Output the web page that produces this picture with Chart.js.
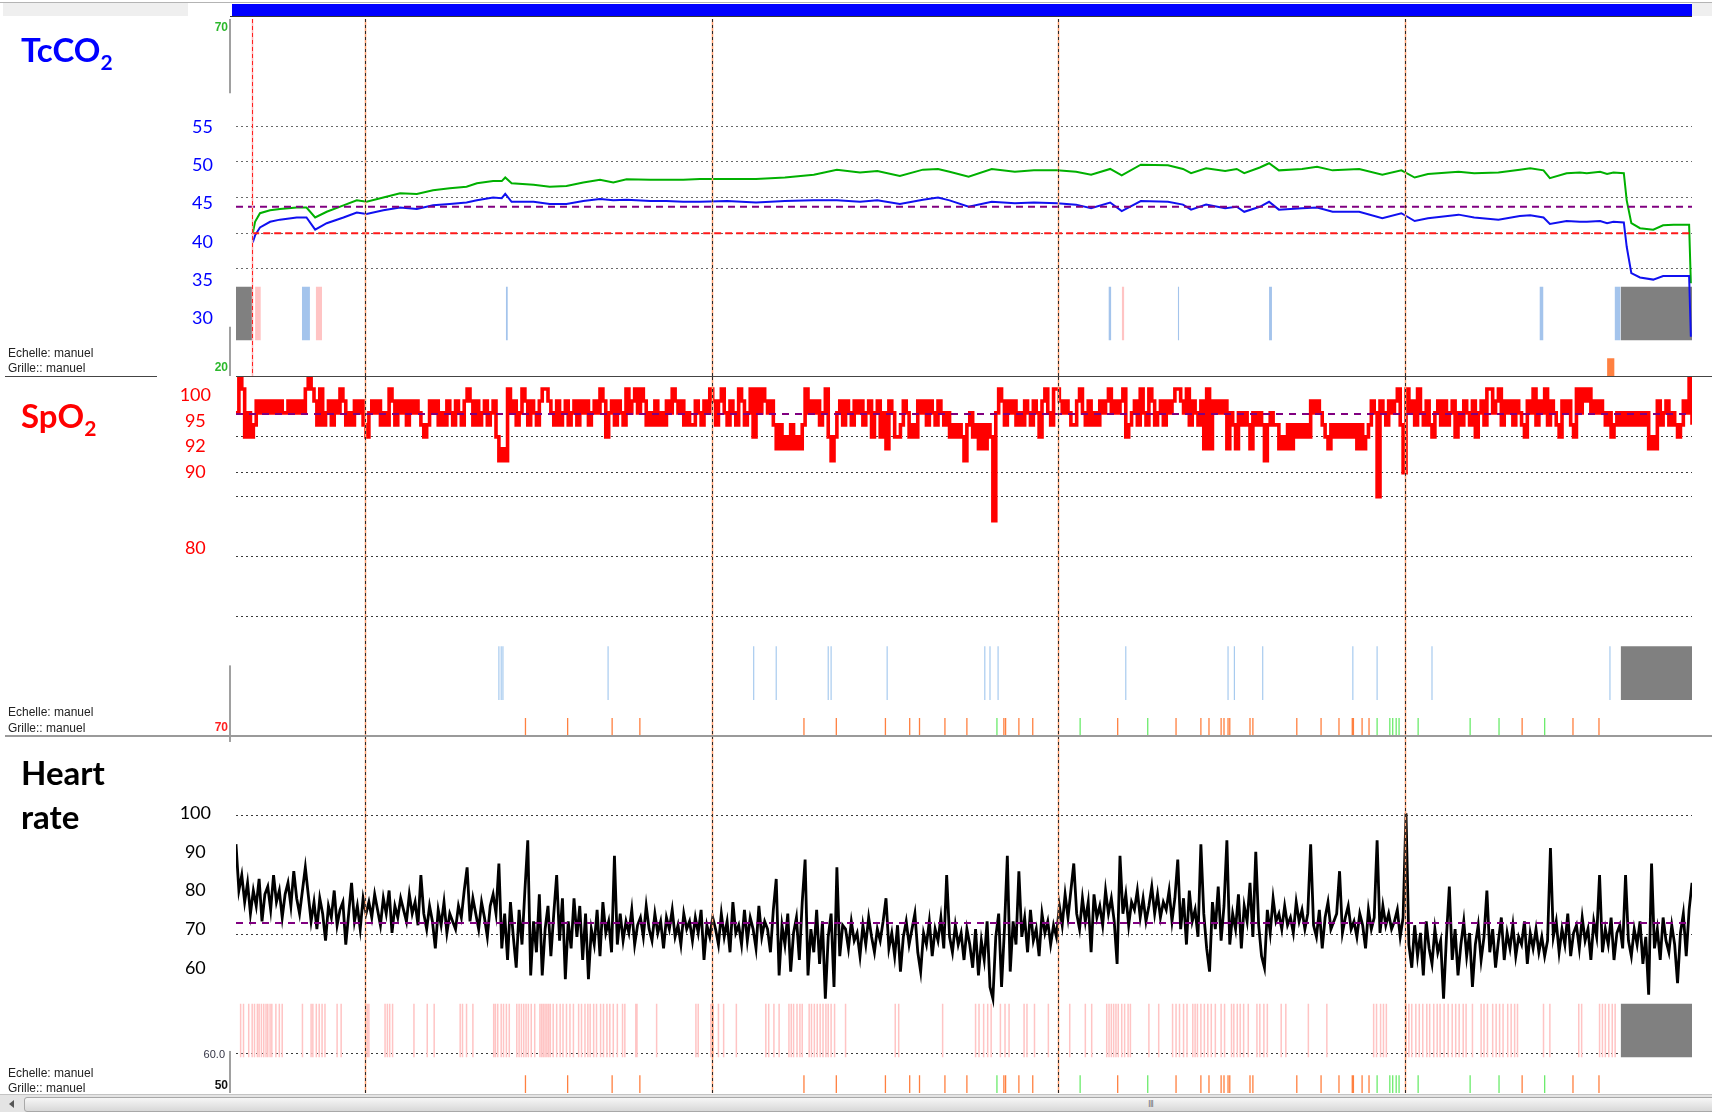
<!DOCTYPE html>
<html lang="fr">
<head>
<meta charset="utf-8">
<title>Polygraphie – TcCO2 / SpO2 / Heart rate</title>
<script src="https://cdn.jsdelivr.net/npm/chart.js@4.4.1/dist/chart.umd.min.js"></script>
<style>
  body { margin: 0; background: #fff; }
  #page { position: relative; width: 1712px; height: 1112px; overflow: hidden; font-family: Lato, "Open Sans", sans-serif; }
  canvas { position: absolute; left: 0; }
  .title { position: absolute; font-weight: 700; font-size: 33px; line-height: 33px; white-space: nowrap; z-index: 2; }
  .sub { font-size: 21px; vertical-align: -8px; line-height: 0; }
  .note { position: absolute; left: 8px; font: 12px/12px "Liberation Sans", Arial, sans-serif; color: #222; white-space: nowrap; z-index: 2; }
  .rule { position: absolute; z-index: 2; }
  .grip { position: absolute; font: 9px/9px "DejaVu Sans", sans-serif; color: #777; letter-spacing: -1px; z-index: 3; }
</style>
</head>
<body>
<div id="page">
  <!-- overview strip -->
  <div class="rule" style="left:0;top:2px;width:1712px;height:1px;background:#B4B4B4"></div>
  <div class="rule" style="left:3px;top:3px;width:185px;height:13px;background:#EFEFEF"></div>
  <div class="rule" style="left:1692px;top:3px;width:20px;height:13px;background:#EFEFEF"></div>
  <div class="rule" style="left:232px;top:4px;width:1460px;height:12px;background:#0000FF"></div>
  <div class="rule" style="left:230px;top:16px;width:1462px;height:1px;background:#333"></div>

  <canvas id="cTc" width="1712" height="377" style="top:0"></canvas>
  <canvas id="cSp" width="1712" height="359" style="top:377px"></canvas>
  <canvas id="cHr" width="1712" height="358" style="top:736px"></canvas>

  <!-- panel separators -->
  <div class="rule" style="left:5px;top:376px;width:152px;height:1px;background:#444"></div>
  <div class="rule" style="left:236px;top:376px;width:1476px;height:1px;background:#444"></div>
  <div class="rule" style="left:5px;top:735px;width:1707px;height:2px;background:#9A9A9A"></div>

  <!-- panel titles -->
  <div class="title" style="left:21px;top:33px;color:#0000FF">TcCO<span class="sub">2</span></div>
  <div class="title" style="left:21px;top:399px;color:#FF0000">SpO<span class="sub">2</span></div>
  <div class="title" style="left:21px;top:756px;color:#000">Heart</div>
  <div class="title" style="left:21px;top:800px;color:#000">rate</div>

  <div class="note" style="top:347px">Echelle: manuel</div>
  <div class="note" style="top:362px">Grille:: manuel</div>
  <div class="note" style="top:706px">Echelle: manuel</div>
  <div class="note" style="top:722px">Grille:: manuel</div>
  <div class="note" style="top:1067px">Echelle: manuel</div>
  <div class="note" style="top:1082px">Grille:: manuel</div>

  <!-- horizontal scrollbar -->
  <div class="rule" style="left:0;top:1094px;width:1712px;height:18px;background:#E4E4E4;border-top:1px solid #C4C4C4"></div>
  <div class="rule" style="left:9px;top:1100px;width:0;height:0;border-top:4px solid transparent;border-bottom:4px solid transparent;border-right:5px solid #555"></div>
  <div class="rule" style="left:24px;top:1097px;width:1694px;height:13px;border:1px solid #A8A8A8;border-radius:3px;background:linear-gradient(#F6F6F6,#D8D8D8)"></div>
  <div class="grip" style="left:1148px;top:1100px">III</div>
</div>

<script>
// ---------- time base (minutes from the left edge of the view) ----------
const VIEW_MIN = 0;
const VIEW_MAX = 252;
const HOUR_MARKS = [22.3, 82.3, 142.3, 202.3];
const REC_START = 2.8;
const SAMPLE_STEP = 0.5;          // SpO2 and heart rate: one sample every 30 s

// ---------- TcCO2 (mmHg) ----------
const tcTime = [2.9, 3.3, 4.15, 5.9, 7.6, 10.5, 12.2, 13.7, 15.7, 18.6, 20.9, 22.6, 25.5, 28.4, 31.3, 34.1, 37.0, 39.9,
  41.7, 44.5, 46.0, 46.6, 47.7, 51.5, 54.3, 57.2, 60.1, 63.0, 65.3, 67.6, 71.7, 74.5, 77.4, 80.3, 85, 90, 95, 100,
  104, 108, 111, 114.9, 118.9, 121.5, 123.5, 126.8, 130.8, 134.8, 138.1, 142.1, 145.4, 148.0, 151.3, 153.3, 156.6,
  161.3, 163.9, 165.3, 167.9, 171.2, 173.2, 174.5, 177.2, 178.8, 180.5, 184.5, 187.1, 189.8, 194.4, 198.4, 201.7,
  204.0, 206.3, 211.6, 214.3, 218.5, 222.2, 224.0, 226.3, 227.4, 230.3, 232.6, 233.8, 236.1, 237.3, 238.4, 240.2,
  240.7, 241.5, 243.0, 245.3, 247.0, 248.8, 251.5, 251.8];
const tcGreen = [40.0, 41.6, 42.8, 43.2, 43.4, 43.6, 43.6, 42.2, 43.0, 43.9, 44.6, 44.4, 45.0, 45.6, 45.5, 46.0, 46.3, 46.5,
  47.0, 47.3, 47.3, 47.8, 47.0, 46.8, 46.5, 46.6, 47.1, 47.5, 47.1, 47.55, 47.5, 47.5, 47.5, 47.6, 47.6, 47.6, 47.8, 48.2,
  48.9, 48.5, 48.7, 48.0, 48.9, 49.0, 48.6, 47.9, 49.0, 48.6, 48.8, 48.8, 48.6, 48.2, 49.0, 48.1, 49.6,
  49.5, 49.0, 48.4, 49.1, 48.7, 49.0, 48.4, 49.2, 49.8, 48.8, 49.0, 49.3, 48.8, 49.0, 48.2, 48.8,
  47.8, 48.3, 48.6, 48.4, 48.5, 48.9, 49.1, 48.8, 47.7, 48.4, 48.5, 48.4, 48.6, 48.3, 48.5, 48.4,
  44.6, 41.4, 40.7, 40.5, 41.1, 41.2, 41.2, 33.0];
const tcBlue = [38.7, 39.7, 40.8, 41.6, 41.9, 42.2, 42.2, 40.5, 41.4, 42.2, 42.9, 42.7, 43.2, 43.6, 43.4, 43.9, 44.1, 44.3,
  44.6, 45.0, 44.9, 45.5, 44.4, 44.4, 44.1, 44.1, 44.5, 44.8, 44.6, 44.7, 44.5, 44.5, 44.4, 44.4, 44.5, 44.3, 44.5, 44.6,
  44.6, 44.4, 44.6, 44.1, 44.7, 45.0, 44.6, 43.7, 44.4, 44.2, 44.3, 44.2, 44.0, 43.5, 44.3, 43.1, 44.5,
  44.4, 44.0, 43.3, 44.0, 43.5, 43.7, 43.0, 43.7, 44.4, 43.3, 43.5, 43.6, 43.0, 43.0, 42.1, 42.8,
  41.7, 42.1, 42.6, 42.2, 41.9, 42.4, 42.5, 42.2, 41.3, 41.7, 41.6, 41.6, 41.7, 41.4, 41.6, 41.5,
  38.1, 34.4, 33.8, 33.5, 34.0, 34.0, 34.0, 25.5];
const tcMean = 43.7;
const tcLimit = 40;
const tcTickLabels = [30, 35, 40, 45, 50, 55];
const tcGridValues = [35, 40, 45, 50, 55];

// ---------- SpO2 (%) ----------
const spo2 = [
  97,100,99,95,97,95,96,98,97,98,97,98,97,98,97,98,97,97,98,97,
  98,97,98,97,99,100,99,98,96,99,96,97,98,96,98,97,99,98,96,97,
  96,98,97,98,96,95,97,98,97,98,96,97,96,99,98,96,98,97,98,96,
  98,97,98,97,96,95,96,98,97,98,96,97,96,98,97,96,98,97,96,98,
  99,98,96,98,96,97,98,96,97,98,95,93,94,93,99,97,98,96,97,99,
  98,96,98,97,96,98,99,99,98,97,96,98,96,97,98,96,97,98,96,98,
  97,98,96,97,98,97,99,98,95,97,98,96,98,97,96,99,97,98,99,97,
  99,98,96,97,96,98,96,97,96,98,97,99,98,97,98,96,97,96,96,98,
  97,96,98,97,99,98,96,98,99,97,96,98,97,96,99,98,96,97,99,95,
  99,97,99,98,97,98,96,94,96,94,95,94,96,94,95,94,96,99,97,98,
  97,98,96,97,99,95,93,95,97,98,96,98,97,96,98,97,98,96,97,98,
  95,97,98,95,97,94,98,97,95,95,96,98,97,95,96,95,98,97,98,96,
  98,97,96,98,97,96,97,95,96,95,96,95,93,
  96,97,95,96,94,96,94,
  96,95,88,97,99,98,96,98,97,98,96,97,96,98,97,96,98,97,95,98,
  99,97,96,99,99,98,97,98,97,96,96,98,99,97,96,98,96,97,96,98,
  97,98,99,97,98,97,98,99,95,96,97,98,96,99,97,96,99,98,96,97,
  98,96,98,97,98,99,99,98,97,99,96,98,97,96,98,94,99,94,98,97,
  98,97,98,94,97,96,94,97,96,97,96,94,97,96,97,96,93,96,97,96,
  96,94,95,94,96,94,96,95,96,95,96,95,98,97,98,97,96,95,94,96,
  95,96,95,96,95,96,95,96,94,96,94,95,96,98,97,90,98,97,96,98,
  97,98,99,96,92,99,97,98,96,99,97,96,98,96,95,97,98,96,98,96,
  97,98,95,97,96,98,97,96,98,95,97,98,96,99,99,97,98,99,96,98,
  97,98,96,98,97,96,95,98,97,99,96,98,97,99,96,98,97,96,95,98,
  97,98,96,95,99,97,99,98,99,97,98,97,98,97,96,97,95,96,97,96,
  97,96,97,96,97,96,97,96,97,94,95,94,98,96,97,98,96,97,96,95,96,98,97,100,96
];
const spo2Mean = 96.9;
// the SpO2 labels sit in evenly spaced slots down the left margin; empty strings are skipped slots
const spo2TickLabels = ['100', '95', '92', '90', '', '', '80'];
const spo2GridValues = [80, 85, 90, 92, 95];

// ---------- Heart rate (bpm) ----------
const heartRate = [
  92,80,84,77,82,74,80,76,83,72,79,81,75,84,77,80,73,79,82,76,85,78,74,80,86,
  79,72,77,70,78,74,67,76,73,80,71,75,77,66,74,82,72,76,70,78,74,
  77,73,79,75,71,78,74,80,69,76,73,78,75,72,79,74,77,71,
  84,74,70,76,72,65,75,71,77,69,74,72,70,76,73,80,86,
  72,78,74,70,77,73,68,76,79,74,87,
  65,74,62,77,68,60,75,66,80,93,58,72,64,79,58,70,76,63,74,84,67,
  78,57,72,65,78,68,76,62,74,57,70,66,75,63,77,69,72,64,89,66,
  74,67,72,69,75,66,71,73,68,76,70,67,74,69,72,65,73,70,75,68,71,66,74,70,72,67,73,69,75,62,71,68,73,
  70,66,74,68,72,64,77,69,71,66,75,67,73,70,65,76,68,72,
  70,64,75,83,58,71,66,74,59,69,73,62,77,88,58,70,64,75,61,72,52,68,74,55,86,63,71,
  70,65,72,67,69,63,71,66,73,68,64,70,67,72,78,65,69,63,71,59,68,72,66,70,74,64,59,69,66,72,63,70,67,73,65,84,68,64,71,66,69,62,70,66,
  60,70,58,67,62,72,55,52,
  68,74,55,70,89,59,72,66,85,68,73,64,75,67,70,63,74,69,72,66,71,68,
  76,71,79,73,80,87,74,70,78,72,77,64,79,73,76,71,80,74,
  78,72,61,89,74,79,71,77,75,80,73,78,72,76,81,74,79,73,77,75,80,72,78,
  88,70,78,66,80,72,75,68,92,74,65,59,77,70,81,67,76,93,66,74,70,79,65,76,72,82,68,90,71,63,60,75,69,78,72,
  74,70,76,71,73,69,77,72,75,70,74,92,71,68,75,65,73,77,70,72,74,85,69,73,76,70,72,68,74,71,65,75,70,73,93,69,76,71,74,70,72,75,68,73,
  100,66,60,71,63,69,58,72,65,61,70,64,67,52,68,81,62,70,58,66,72,63,69,55,66,71,62,68,80,64,70,60,67,73,62,69,65,71,63,68,66,72,61,69,65,70,64,68,63,67,
  91,68,72,64,70,66,74,63,69,71,65,73,67,70,62,72,68,84,64,70,66,73,62,69,71,65,84,67,63,70,66,72,61,68,53,87,65,70,62,73,67,64,71,66,56,69,74,63,75,82
];
const hrMean = 71.6;
const hrTickLabels = [60, 70, 80, 90, 100];
const hrGridValues = [60, 90, 120];   // on the recorder's own 50–140 scale

// ---------- events (minutes) ----------
const tcGrayEvents = [[0, 2.8], [239.65, 252]];
const tcPinkEvents = [[3.3, 4.3], [13.8, 14.9], [153.3, 153.75]];
const tcBlueEvents = [[11.4, 12.8], [46.7, 47.05], [151.0, 151.5], [163.0, 163.25], [178.8, 179.3], [225.6, 226.3], [238.6, 239.65]];
const tcOrangeEvents = [[237.3, 238.6]];

const spo2BlueEvents = [45.5, 45.9, 46.2, 64.4, 89.6, 93.5, 102.5, 103.0, 112.7, 129.6, 130.5, 131.9, 154.0,
  171.7, 172.8, 177.7, 193.3, 197.5, 207.0, 237.8];
const spo2GrayEvents = [[239.65, 252]];

const hrPinkEvents = [0.8, 1.3, 2.2, 2.8, 3.2, 3.7, 4.0, 4.4, 4.8, 5.2, 5.5, 5.9, 6.2, 6.9, 7.5, 8.0, 11.5, 13.0, 13.3,
  13.9, 14.4, 14.9, 15.4, 17.5, 18.2, 22.7, 23.0, 25.8, 26.2, 26.6, 27.1, 30.8, 33.1, 34.3, 38.8, 39.2, 39.9, 41.0,
  44.6, 44.9, 45.3, 45.9, 46.3, 46.8, 47.3, 48.6, 49.0, 49.4, 49.8, 50.2, 50.6, 51.1, 51.7, 52.6, 52.9, 53.2, 53.5,
  53.8, 54.1, 54.4, 54.9, 55.5, 56.1, 56.6, 57.2, 57.8, 58.4, 59.3, 59.8, 60.4, 60.9, 61.3, 61.9, 62.4, 63.1, 63.6,
  64.2, 64.7, 65.3, 66.0, 66.9, 67.3, 69.2, 69.4, 72.8, 79.6, 80.0, 82.2, 82.6, 83.5, 84.4, 86.6, 91.7, 92.2, 93.1,
  94.0, 95.7, 96.1, 96.5, 97.1, 97.6, 98.0, 99.2, 99.6, 100.1, 100.6, 101.1, 101.6, 102.1, 102.5, 103.0, 103.6,
  105.5, 114.1, 114.7, 122.3, 128.0, 128.6, 129.4, 130.1, 130.7, 132.3, 133.1, 133.8, 136.4, 136.9, 138.2, 140.6,
  144.3, 147.0, 148.1, 150.7, 151.1, 151.5, 151.9, 152.3, 152.7, 153.3, 153.8, 154.4, 154.8, 158.0, 159.7, 162.1,
  162.7, 163.3, 164.0, 164.6, 165.6, 166.0, 166.4, 167.0, 167.6, 168.2, 168.8, 169.5, 170.5, 171.1, 172.3, 172.7,
  173.3, 173.8, 174.4, 175.2, 176.7, 177.2, 177.9, 178.5, 180.9, 181.7, 185.6, 188.8, 196.9, 197.4, 198.1, 198.6,
  199.1, 202.5, 203.0, 203.5, 204.2, 204.8, 205.4, 206.1, 206.6, 207.3, 207.9, 208.4, 209.1, 209.8, 210.5, 211.1,
  211.7, 212.4, 212.9, 214.0, 215.5, 216.0, 216.6, 217.5, 218.1, 218.7, 219.3, 220.1, 220.7, 221.3, 221.8, 226.3,
  227.4, 232.4, 232.9, 236.0, 236.5, 237.0, 237.6, 238.2, 238.7];
const hrGrayEvents = [[239.65, 252]];

const orangeMarks = [50.1, 57.4, 65.1, 69.9, 98.3, 103.9, 112.4, 116.6, 118.3, 122.7, 126.5, 132.9, 133.2, 135.5,
  137.9, 152.6, 162.7, 167.0, 168.4, 170.5, 171.0, 171.7, 172.0, 175.5, 176.0, 183.6, 187.8, 190.9, 193.2, 193.4,
  194.9, 196.1, 222.6, 231.4, 235.9];
const greenMarks = [131.7, 146.1, 157.8, 197.5, 199.7, 200.2, 200.8, 201.3, 204.6, 213.6, 218.6, 226.5];

// ---------- drawing helpers ----------
const EVENT_LANE = [10, 25];    // event strip, in % of the panel height
const MARK_LANE = [0, 5];       // marker row along the panel bottom
const COLORS = {
  gray: '#808080', pink: '#FFC4C4', blue: '#A4C4EC', blueThin: '#A8CBEF',
  orange: '#FF8040', green: '#6CEB6C', purple: '#800080'
};

const pts = (xs, ys) => xs.map((x, i) => ({ x, y: ys[i] }));
const sampled = ys => ys.map((y, i) => ({ x: i * SAMPLE_STEP, y }));

function levelLine(x0, x1, y, color, axis, dash) {
  return { type: 'line', data: [{ x: x0, y }, { x: x1, y }], yAxisID: axis, borderColor: color, borderWidth: 2,
    borderDash: dash, pointRadius: 0, fill: false, order: 0 };
}
function spans(list, lane, color) {
  return list.map(([a, b]) => ({ type: 'line', data: [{ x: a, y: lane[1] }, { x: b, y: lane[1] }], yAxisID: 'lane',
    fill: { value: lane[0] }, backgroundColor: color, borderColor: 'rgba(0,0,0,0)', borderWidth: 0,
    pointRadius: 0, order: 3 }));
}
function strokes(times, lane, color, width) {
  const data = [];
  times.forEach(t => data.push({ x: t, y: lane[0] }, { x: t, y: lane[1] }, { x: t, y: null }));
  return { type: 'line', data, yAxisID: 'lane', borderColor: color, borderWidth: width, pointRadius: 0,
    spanGaps: false, fill: false, order: 3 };
}
const fixedTicks = values => scale => { scale.ticks = values.map(v => ({ value: v })); };
const noEdgePadding = s => { s.paddingTop = 0; s.paddingBottom = 0; };

// hour markers, recording start, axis range stubs and the recorder's small edge labels
const overlayPlugin = {
  id: 'overlay',
  afterDatasetsDraw(chart, _args, o) {
    const { ctx, chartArea: a } = chart;
    const xs = chart.scales.x;
    const vline = (px, color, dash, w) => {
      ctx.setLineDash(dash); ctx.strokeStyle = color; ctx.lineWidth = w;
      ctx.beginPath(); ctx.moveTo(px, a.top); ctx.lineTo(px, a.bottom); ctx.stroke();
    };
    ctx.save();
    (o.hours || []).forEach(v => {
      const px = Math.round(xs.getPixelForValue(v)) + 0.5;
      vline(px, '#FFA070', [], 1.5);
      vline(px, '#2A2A2A', [3, 3], 1);
    });
    if (o.start != null) {
      const px = Math.round(xs.getPixelForValue(o.start)) + 0.5;
      vline(px, '#FFB4B4', [], 1.5);
      vline(px, '#FF2020', [4, 3], 1);
    }
    ctx.restore();
  },
  afterDraw(chart, _args, o) {
    const { ctx, chartArea: a } = chart;
    ctx.save();
    ctx.setLineDash([]);
    (o.stubs || []).forEach(s => {
      const sc = chart.scales[s.axis];
      const y0 = sc.getPixelForValue(s.from), y1 = sc.getPixelForValue(s.to);
      ctx.fillStyle = '#A0A0A0';
      ctx.fillRect(a.left - 7, Math.min(y0, y1), 2, Math.abs(y1 - y0));
    });
    (o.edgeLabels || []).forEach(l => {
      const sc = chart.scales[l.axis];
      ctx.font = l.font;
      ctx.fillStyle = l.color;
      ctx.textAlign = 'right';
      ctx.textBaseline = l.baseline;
      ctx.fillText(l.text, a.left - (l.gap || 8), sc.getPixelForValue(l.value) + (l.dy || 0));
    });
    ctx.restore();
  }
};

const SMALL_BOLD = 'bold 12px "Liberation Sans", Arial, sans-serif';
const LABEL_FONT = { family: 'Lato, "Open Sans", sans-serif', size: 18 };

function xScale() {
  return { type: 'linear', min: VIEW_MIN, max: VIEW_MAX, display: false };
}
function gridAxis(min, max, values, color) {
  return { type: 'linear', position: 'right', min, max, afterBuildTicks: fixedTicks(values),
    afterFit: s => { s.width = 0; noEdgePadding(s); },
    ticks: { display: false }, grid: { color, lineWidth: 1, drawTicks: false }, border: { display: false, dash: [2, 3] } };
}
function labelAxis(min, max, values, color, padding, format, reverse) {
  return { type: 'linear', position: 'left', min, max, reverse: !!reverse, afterBuildTicks: fixedTicks(values),
    afterFit: s => { s.width = 236; noEdgePadding(s); },
    grid: { display: false, drawTicks: false }, border: { display: false },
    ticks: { color, font: LABEL_FONT, padding, crossAlign: 'center', autoSkip: false, callback: format || (v => String(v)) } };
}
const laneAxis = { type: 'linear', min: 0, max: 100, display: false };

function baseOptions(padding, scales, overlay) {
  return {
    responsive: false, animation: false, devicePixelRatio: 1, events: [],
    layout: { autoPadding: false, padding },
    scales,
    plugins: { legend: { display: false }, tooltip: { enabled: false }, overlay }
  };
}

// ---------- TcCO2 panel ----------
new Chart(document.getElementById('cTc'), {
  type: 'line',
  data: { datasets: [
    levelLine(VIEW_MIN, VIEW_MAX, tcMean, COLORS.purple, 'y', [7, 5]),
    levelLine(REC_START, VIEW_MAX, tcLimit, '#FF1A1A', 'y', [7, 4]),
    { data: pts(tcTime, tcBlue), yAxisID: 'y', borderColor: '#1010F0', borderWidth: 2, pointRadius: 0, order: 1 },
    { data: pts(tcTime, tcGreen), yAxisID: 'y', borderColor: '#00B000', borderWidth: 2, pointRadius: 0, order: 1 },
    ...spans(tcGrayEvents, EVENT_LANE, COLORS.gray),
    ...spans(tcPinkEvents, EVENT_LANE, COLORS.pink),
    ...spans(tcBlueEvents, EVENT_LANE, COLORS.blue),
    ...spans(tcOrangeEvents, MARK_LANE, COLORS.orange)
  ] },
  options: baseOptions({ top: 19, bottom: 1, left: 0, right: 20 }, {
    x: xScale(),
    y: gridAxis(20, 70, tcGridValues, '#6A6A6A'),
    yl: labelAxis(22.46, 69.11, tcTickLabels, '#0000FF', 23),
    lane: laneAxis
  }, {
    hours: HOUR_MARKS, start: REC_START,
    stubs: [{ axis: 'y', from: 70, to: 59.6 }, { axis: 'y', from: 26.9, to: 20 }],
    edgeLabels: [
      { axis: 'y', value: 70, text: '70', color: '#2DB82D', baseline: 'top', dy: 3, font: SMALL_BOLD },
      { axis: 'y', value: 20, text: '20', color: '#2DB82D', baseline: 'bottom', dy: -2, font: SMALL_BOLD }
    ]
  }),
  plugins: [overlayPlugin]
});

// ---------- SpO2 panel ----------
const spo2Slots = spo2TickLabels.map((t, i) => (t ? i : null)).filter(i => i !== null);
new Chart(document.getElementById('cSp'), {
  type: 'line',
  data: { datasets: [
    levelLine(VIEW_MIN, VIEW_MAX, spo2Mean, COLORS.purple, 'y', [7, 6]),
    { data: sampled(spo2), yAxisID: 'y', stepped: true, borderColor: '#FF0000', borderWidth: 3.6, pointRadius: 0, order: 1 },
    strokes(spo2BlueEvents, EVENT_LANE, COLORS.blueThin, 1.2),
    ...spans(spo2GrayEvents, EVENT_LANE, COLORS.gray),
    strokes(orangeMarks, MARK_LANE, COLORS.orange, 1.3),
    strokes(greenMarks, MARK_LANE, COLORS.green, 1.3)
  ] },
  options: baseOptions({ top: 0, bottom: 0, left: 0, right: 20 }, {
    x: xScale(),
    y: gridAxis(70, 100, spo2GridValues, '#3A3A3A'),
    yl: labelAxis(-0.73, 13.41, spo2Slots, '#FF0000', 25, v => spo2TickLabels[Math.round(v)], true),
    lane: laneAxis
  }, {
    hours: HOUR_MARKS,
    stubs: [{ axis: 'y', from: 75.9, to: 70 }],
    edgeLabels: [
      { axis: 'y', value: 70, text: '70', color: '#FF2020', baseline: 'bottom', dy: -2, font: SMALL_BOLD }
    ]
  }),
  plugins: [overlayPlugin]
});

// ---------- Heart rate panel ----------
new Chart(document.getElementById('cHr'), {
  type: 'line',
  data: { datasets: [
    levelLine(VIEW_MIN, VIEW_MAX, hrMean, COLORS.purple, 'y', [7, 6]),
    { data: sampled(heartRate), yAxisID: 'y', borderColor: '#000000', borderWidth: 2.8, pointRadius: 0, order: 1 },
    strokes(hrPinkEvents, EVENT_LANE, COLORS.pink, 1.5),
    ...spans(hrGrayEvents, EVENT_LANE, COLORS.gray),
    strokes(orangeMarks, MARK_LANE, COLORS.orange, 1.3),
    strokes(greenMarks, MARK_LANE, COLORS.green, 1.3)
  ] },
  options: baseOptions({ top: 0, bottom: 1, left: 0, right: 20 }, {
    x: xScale(),
    y: labelAxis(27.54, 120.03, hrTickLabels, '#000000', 25),
    yg: gridAxis(50, 140, hrGridValues, '#3A3A3A'),
    lane: laneAxis
  }, {
    hours: HOUR_MARKS,
    stubs: [{ axis: 'yg', from: 60.6, to: 50 }, { axis: 'yg', from: 140, to: 138.5 }],
    edgeLabels: [
      { axis: 'yg', value: 50, text: '50', color: '#111', baseline: 'bottom', dy: -1, font: SMALL_BOLD },
      { axis: 'yg', value: 60, text: '60.0', color: '#334', baseline: 'middle', dy: 2, gap: 11,
        font: '11px "Liberation Sans", Arial, sans-serif' }
    ]
  }),
  plugins: [overlayPlugin]
});
</script>
</body>
</html>
